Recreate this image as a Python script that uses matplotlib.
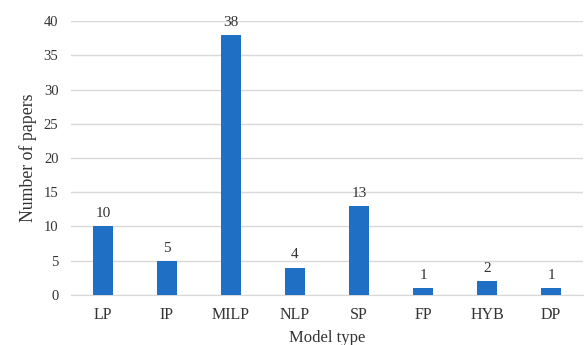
import matplotlib
matplotlib.use("Agg")
import matplotlib.pyplot as plt

categories = ["LP", "IP", "MILP", "NLP", "SP", "FP", "HYB", "DP"]
values = [10, 5, 38, 4, 13, 1, 2, 1]

plt.rcParams['font.family'] = ['Liberation Serif', 'DejaVu Serif']

fig = plt.figure(figsize=(5.86, 3.45), dpi=100)
ax = fig.add_axes([0.121, 0.145, 0.874, 0.794])

x = range(len(categories))
bars = ax.bar(x, values, width=0.31, color='#1f6fc5', zorder=3)
for xi, v in zip(x, values):
    ax.text(xi, v + 0.9, str(v), ha='center', va='bottom', fontsize=11, color='#333333')

ax.set_xlim(-0.5, len(categories) - 0.5)
ax.set_ylim(0, 40)
ax.set_yticks(range(0, 41, 5))
ax.set_xticks(list(x))
ax.set_xticklabels(categories)
ax.yaxis.grid(True, color='#d9d9d9', linewidth=1, zorder=0)
ax.set_axisbelow(True)
for s in ['top', 'right', 'left']:
    ax.spines[s].set_visible(False)
ax.spines['bottom'].set_color('#d9d9d9')
ax.tick_params(axis='both', length=0, colors='#333333')
ax.tick_params(axis='y', pad=9, labelsize=10.5)
ax.tick_params(axis='x', pad=9, labelsize=11.5)
ax.set_xlabel("Model type", fontsize=12, color='#333333')
ax.set_ylabel("Number of papers", fontsize=12.8, color='#333333')
ax.xaxis.set_label_coords(0.5, -0.127)
ax.yaxis.set_label_coords(-0.066, 0.5)

fig.savefig("out.png", dpi=100)
